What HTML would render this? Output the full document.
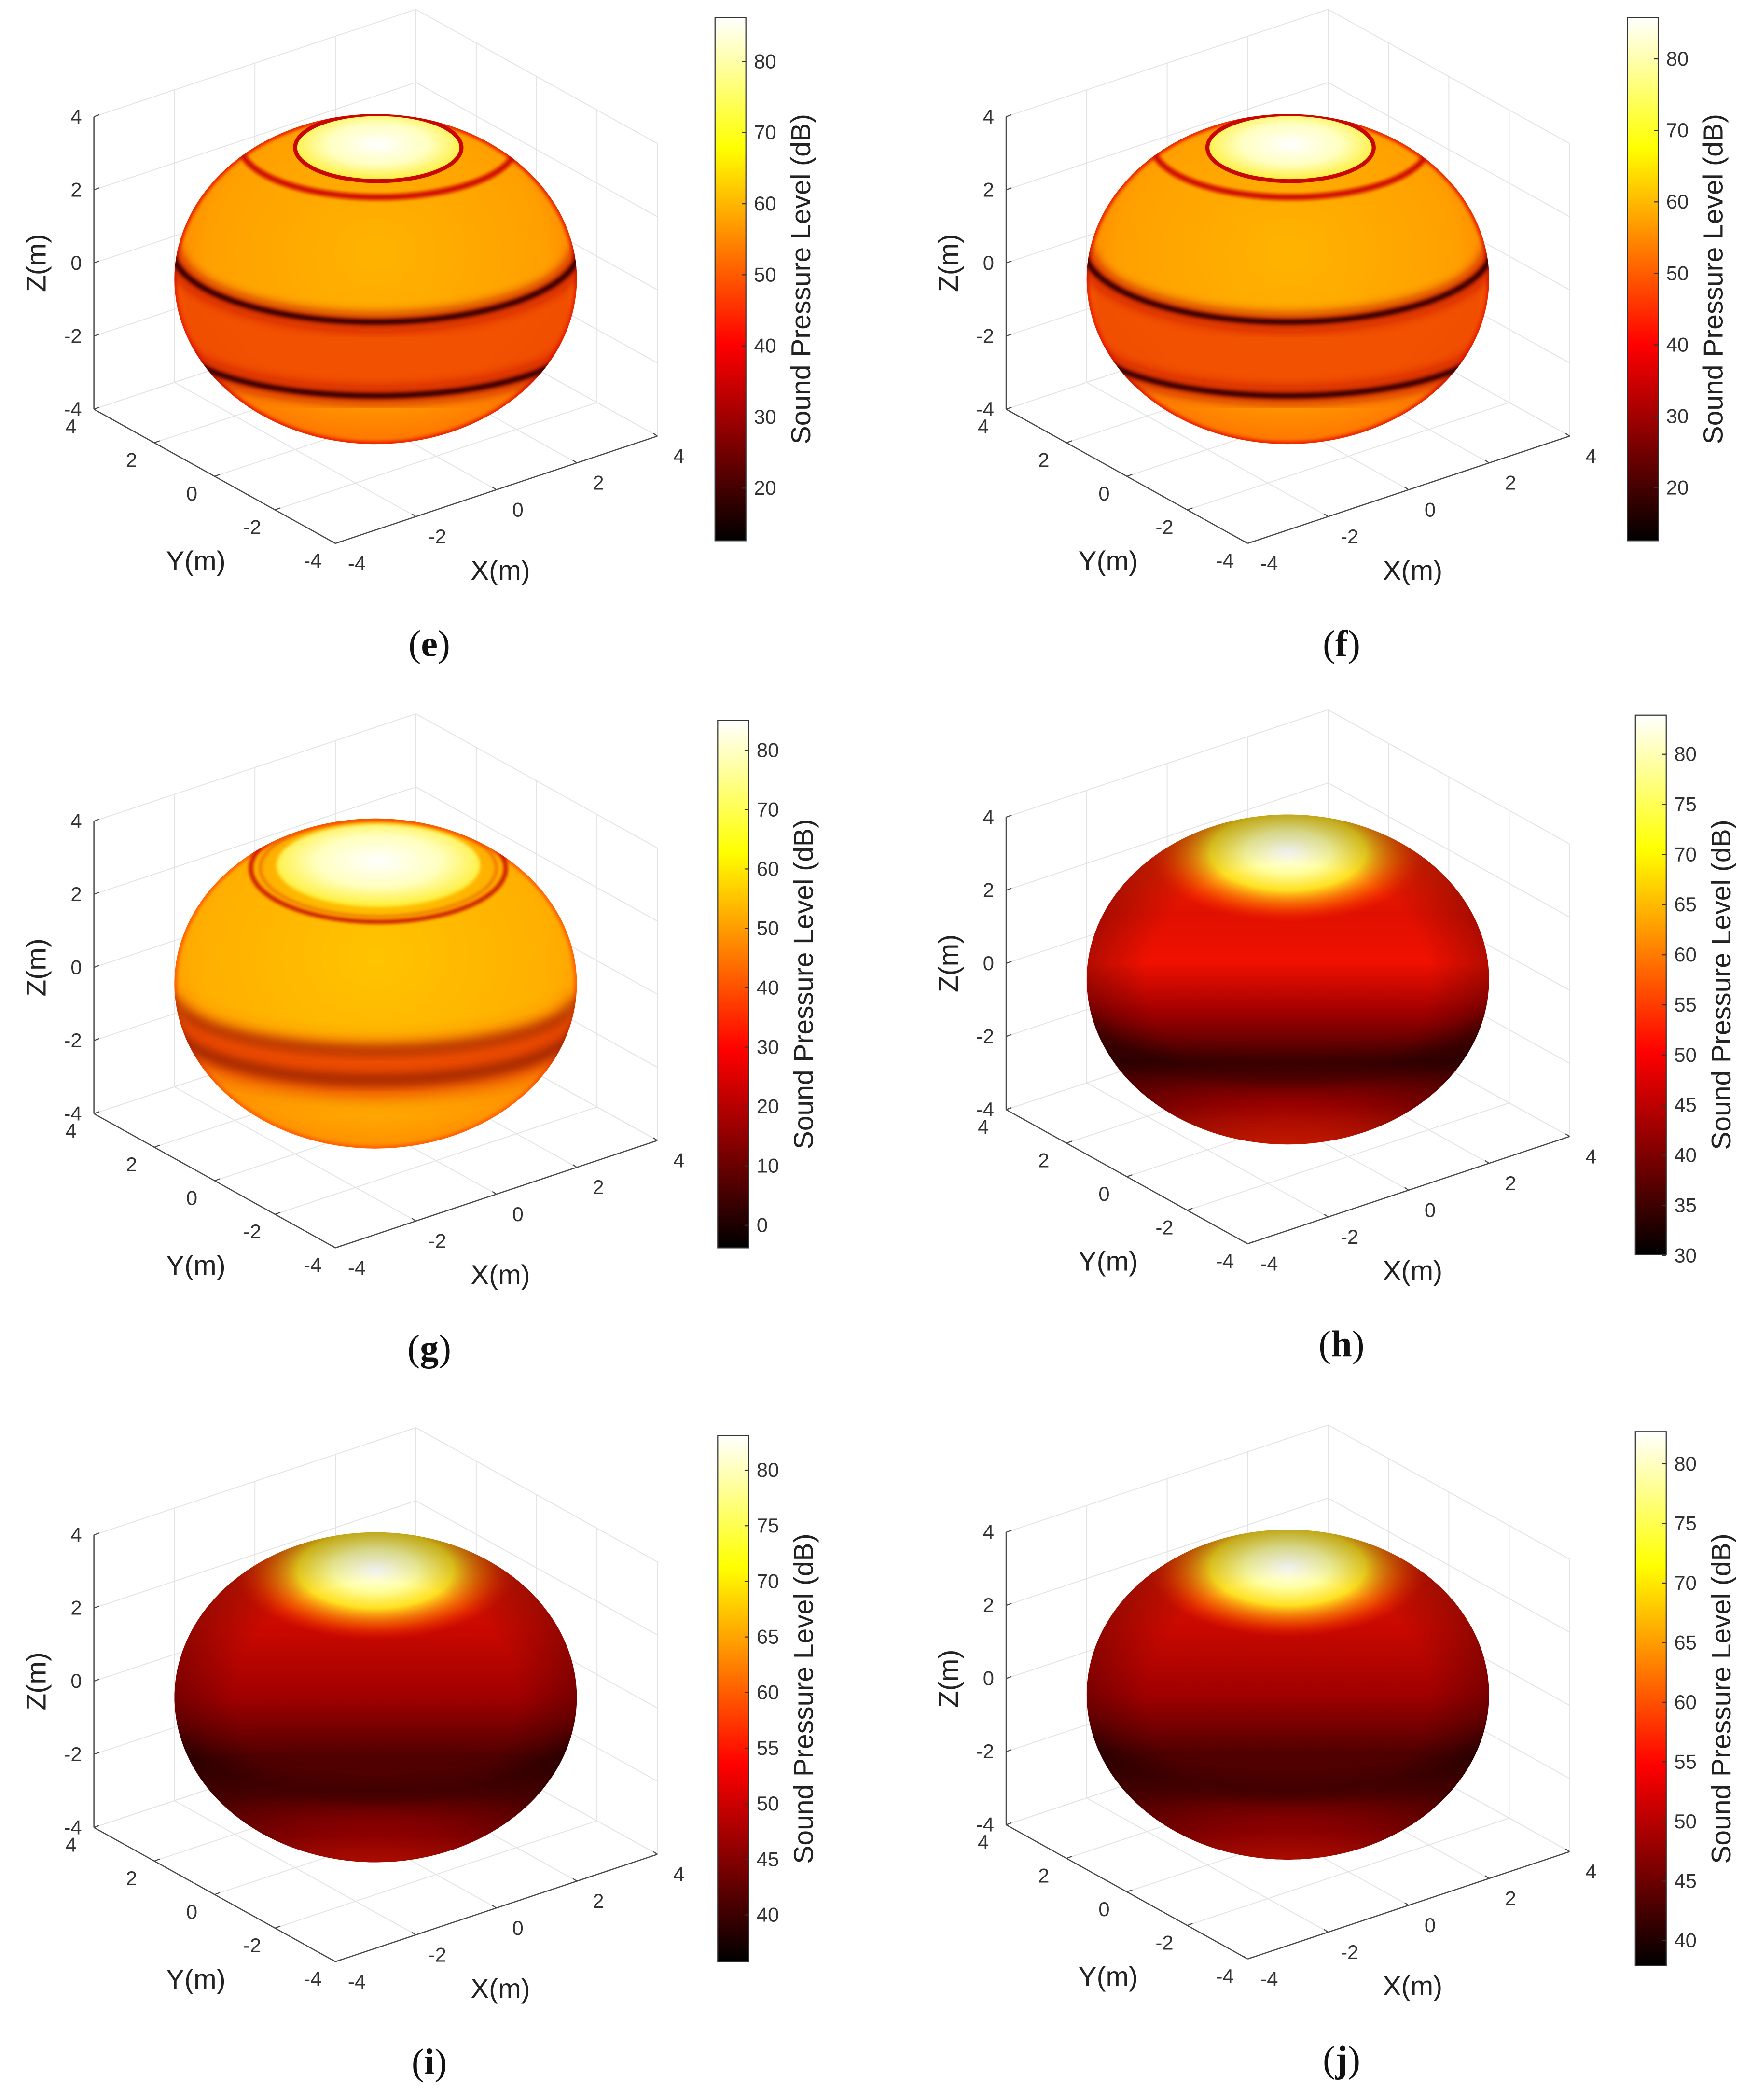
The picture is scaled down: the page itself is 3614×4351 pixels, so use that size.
<!DOCTYPE html>
<html><head><meta charset="utf-8">
<style>html,body{margin:0;padding:0;background:#fff;}svg{display:block;}</style>
</head><body>
<svg id="fig" xmlns="http://www.w3.org/2000/svg" width="3614" height="4351" viewBox="0 0 1300 1565.1" preserveAspectRatio="none">
<defs>
<linearGradient id="hot" x1="0" y1="1" x2="0" y2="0">
<stop offset="0" stop-color="#000"/><stop offset="0.375" stop-color="#f00"/><stop offset="0.75" stop-color="#ff0"/><stop offset="1" stop-color="#fff"/>
</linearGradient>
<radialGradient id="baseBand" cx="50%" cy="42%" r="60%"><stop offset="0" stop-color="#ffb400"/><stop offset="0.7" stop-color="#ffa000"/><stop offset="1" stop-color="#ff7000"/></radialGradient>
<radialGradient id="baseG" cx="50%" cy="42%" r="60%"><stop offset="0" stop-color="#ffc400"/><stop offset="0.75" stop-color="#ffae00"/><stop offset="1" stop-color="#ff8a00"/></radialGradient>
<radialGradient id="cap" cx="50%" cy="45%" r="55%"><stop offset="0" stop-color="#fff"/><stop offset="0.55" stop-color="#ffffc0"/><stop offset="1" stop-color="#ffee30"/></radialGradient>
<linearGradient id="darkBase" x1="0" y1="0" x2="0" y2="1">
<stop offset="0" stop-color="#e82000"/><stop offset="0.3" stop-color="#c80800"/><stop offset="0.5" stop-color="#a00000"/><stop offset="0.68" stop-color="#500000"/><stop offset="0.8" stop-color="#5a0000"/><stop offset="0.92" stop-color="#a00000"/><stop offset="1" stop-color="#e01000"/></linearGradient>
<linearGradient id="darkBaseH" x1="0" y1="0" x2="0" y2="1">
<stop offset="0" stop-color="#ff3000"/><stop offset="0.3" stop-color="#e01000"/><stop offset="0.45" stop-color="#f01000"/><stop offset="0.6" stop-color="#a00000"/><stop offset="0.75" stop-color="#400000"/><stop offset="0.88" stop-color="#a00000"/><stop offset="1" stop-color="#ff2000"/></linearGradient>
<radialGradient id="glow" cx="50%" cy="50%" r="50%"><stop offset="0" stop-color="#fff"/><stop offset="0.3" stop-color="#ffffa0"/><stop offset="0.55" stop-color="#ffe020"/><stop offset="0.8" stop-color="#ff7000" stop-opacity="0.6"/><stop offset="1" stop-color="#ff3000" stop-opacity="0"/></radialGradient>
<radialGradient id="limb" cx="50%" cy="50%" r="50%"><stop offset="0.7" stop-color="#000" stop-opacity="0"/><stop offset="1" stop-color="#000" stop-opacity="0.25"/></radialGradient>
<filter id="b1" x="-20%" y="-20%" width="140%" height="140%"><feGaussianBlur stdDeviation="1.2"/></filter>
<filter id="b3" x="-20%" y="-20%" width="140%" height="140%"><feGaussianBlur stdDeviation="4"/></filter>
<filter id="b6" x="-20%" y="-50%" width="140%" height="200%"><feGaussianBlur stdDeviation="7"/></filter>
</defs>
</svg>
<script>
// ---- data ----
const axisTicks = [-4, -2, 0, 2, 4];
const axisTickLabels = ['-4', '-2', '0', '2', '4'];
const cbTicksE = [20, 30, 40, 50, 60, 70, 80];
const cbRangeE = [12.6, 86.2];
const cbTicksF = [20, 30, 40, 50, 60, 70, 80];
const cbRangeF = [12.6, 85.8];
const cbTicksG = [0, 10, 20, 30, 40, 50, 60, 70, 80];
const cbRangeG = [-3.8, 85];
const cbTicksH = [30, 35, 40, 45, 50, 55, 60, 65, 70, 75, 80];
const cbRangeH = [30.1, 83.9];
const cbTicksI = [40, 45, 50, 55, 60, 65, 70, 75, 80];
const cbRangeI = [35.8, 83.1];
const cbTicksJ = [40, 45, 50, 55, 60, 65, 70, 75, 80];
const cbRangeJ = [37.9, 82.7];

const NS = 'http://www.w3.org/2000/svg';
const svg = document.getElementById('fig');
function mk(tag, attrs, parent) {
  const e = document.createElementNS(NS, tag);
  for (const k in attrs) e.setAttribute(k, attrs[k]);
  (parent || svg).appendChild(e);
  return e;
}

const panels = [
  {id:'e', dx:0, dy:0, type:'bands', cb:{x:533,y:13,w:23,h:390}, ticks:cbTicksE, range:cbRangeE},
  {id:'f', dx:680, dy:0, type:'bands', cb:{x:1213,y:13,w:23,h:390}, ticks:cbTicksF, range:cbRangeF},
  {id:'g', dx:0, dy:525, type:'g', cb:{x:535,y:537,w:23,h:393}, ticks:cbTicksG, range:cbRangeG},
  {id:'h', dx:680, dy:522, type:'h', cb:{x:1219,y:533,w:23,h:402}, ticks:cbTicksH, range:cbRangeH},
  {id:'i', dx:0, dy:1057, type:'dark', cb:{x:535,y:1070,w:23,h:392}, ticks:cbTicksI, range:cbRangeI},
  {id:'j', dx:680, dy:1055, type:'dark', cb:{x:1219,y:1067,w:23,h:398}, ticks:cbTicksJ, range:cbRangeJ}
];

function proj(p, x, y, z) {
  return [p.dx + 250 + (x + 4) * 30 - (y + 4) * 22.5,
          p.dy + 405 - (x + 4) * 10 - (y + 4) * 12.5 - (z + 4) * 27.25];
}
function line(g, a, b, stroke, w) {
  return mk('line', {x1:a[0], y1:a[1], x2:b[0], y2:b[1], stroke:stroke, 'stroke-width':w}, g);
}
function txt(g, x, y, s, attrs) {
  const t = mk('text', Object.assign({x:x, y:y}, attrs), g);
  t.textContent = s;
  return t;
}
function lowerArc(cx, cy, rx, ry) {
  return 'M' + (cx - rx) + ',' + cy + ' A' + rx + ',' + ry + ' 0 0 0 ' + (cx + rx) + ',' + cy;
}

panels.forEach(p => {
  const g = mk('g', {});
  
  

  const grid = mk('g', {}, g);
  
  
  const gc = '#e3e3e3', gw = 0.7;
  axisTicks.forEach(v => {
    line(grid, proj(p, v, 4, -4), proj(p, v, 4, 4), gc, gw);
    line(grid, proj(p, -4, 4, v), proj(p, 4, 4, v), gc, gw);
    line(grid, proj(p, 4, v, -4), proj(p, 4, v, 4), gc, gw);
    line(grid, proj(p, 4, -4, v), proj(p, 4, 4, v), gc, gw);
    line(grid, proj(p, v, -4, -4), proj(p, v, 4, -4), gc, gw);
    line(grid, proj(p, -4, v, -4), proj(p, 4, v, -4), gc, gw);
  });

  const ax = mk('g', {}, g);
  
  
  const ac = '#4a4a4a';
  line(ax, proj(p, -4, 4, -4), proj(p, -4, 4, 4), ac, 0.9);
  line(ax, proj(p, -4, 4, -4), proj(p, -4, -4, -4), ac, 0.9);
  line(ax, proj(p, -4, -4, -4), proj(p, 4, -4, -4), ac, 0.9);
  const tf = {'font-family':'Liberation Sans, sans-serif', 'font-size':15, fill:'#333'};
  axisTicks.forEach((v, i) => {
    const pz = proj(p, -4, 4, v);
    line(ax, pz, [pz[0] + 4, pz[1] - 1.5], ac, 0.8);
    const tz = txt(ax, pz[0] - 9, pz[1] + 5, axisTickLabels[i], Object.assign({'text-anchor':'end'}, tf));
    
    
    const py = proj(p, -4, v, -4);
    line(ax, py, [py[0] + 4, py[1] - 1.5], ac, 0.8);
    const ty = txt(ax, py[0] - 17, py[1] + 18, axisTickLabels[i], Object.assign({'text-anchor':'middle'}, tf));
    
    
    const px = proj(p, v, -4, -4);
    line(ax, px, [px[0] - 3, px[1] - 2], ac, 0.8);
    const tx = txt(ax, px[0] + 16, px[1] + 20, axisTickLabels[i], Object.assign({'text-anchor':'middle'}, tf));
    
    
  });
  const lf = {'font-family':'Liberation Sans, sans-serif', 'font-size':20.5, fill:'#222', 'text-anchor':'middle'};
  const zt = txt(ax, 0, 0, 'Z(m)', Object.assign({transform:'translate(' + (p.dx + 34) + ',' + (p.dy + 196) + ') rotate(-90)'}, lf));
  
  
  const yt = txt(ax, p.dx + 146, p.dy + 425, 'Y(m)', lf);
  
  
  const xt = txt(ax, p.dx + 373, p.dy + 432, 'X(m)', lf);
  
  

  const cx = p.dx + 280, cy = p.dy + 208, rx = 150, ry = 123;
  const cid = 'clip' + p.id;
  const cp = mk('clipPath', {id:cid}, g);
  mk('ellipse', {cx:cx, cy:cy, rx:rx, ry:ry}, cp);
  const sp = mk('g', {'clip-path':'url(#' + cid + ')'}, g);
  
  

  if (p.type === 'bands') {
    mk('ellipse', {cx:cx, cy:cy, rx:rx, ry:ry, fill:'url(#baseBand)'}, sp);
    mk('path', {d:lowerArc(cx, cy - 23, rx, 55) + ' L' + (cx + rx) + ',' + (cy + 42) + ' A' + rx + ',45 0 0 1 ' + (cx - rx) + ',' + (cy + 42) + ' Z', fill:'#f04800', opacity:0.9, filter:'url(#b3)'}, sp);
    mk('ellipse', {cx:cx, cy:cy, rx:rx, ry:ry, fill:'none', stroke:'#e82000', 'stroke-width':4, filter:'url(#b1)'}, sp);
    mk('ellipse', {cx:cx + 2, cy:cy - 100, rx:103, ry:39, fill:'none', stroke:'#d01000', 'stroke-width':4.5, filter:'url(#b1)'}, sp);
    mk('ellipse', {cx:cx + 2, cy:cy - 98, rx:62, ry:25, fill:'url(#cap)', stroke:'#c80800', 'stroke-width':3}, sp);
    [[cy - 23, 55], [cy + 42, 45]].forEach(r => {
      mk('path', {d:lowerArc(cx, r[0], rx + 2, r[1]), fill:'none', stroke:'#c01000', 'stroke-width':13, opacity:0.75, filter:'url(#b3)'}, sp);
      mk('path', {d:lowerArc(cx, r[0], rx + 2, r[1]), fill:'none', stroke:'#3a0000', 'stroke-width':4, filter:'url(#b1)'}, sp);
    });
  } else if (p.type === 'g') {
    mk('ellipse', {cx:cx, cy:cy, rx:rx, ry:ry, fill:'url(#baseG)'}, sp);
    mk('ellipse', {cx:cx, cy:cy, rx:rx, ry:ry, fill:'none', stroke:'#ff6000', 'stroke-width':4, filter:'url(#b1)'}, sp);
    mk('path', {d:lowerArc(cx, cy + 5, rx, 40) + ' L' + (cx + rx) + ',' + (cy + 40) + ' A' + rx + ',45 0 0 1 ' + (cx - rx) + ',' + (cy + 40) + ' Z', fill:'#e83000', opacity:0.8, filter:'url(#b6)'}, sp);
    mk('path', {d:lowerArc(cx, cy + 10, rx, 40), fill:'none', stroke:'#6a0000', 'stroke-width':6, opacity:0.6, filter:'url(#b3)'}, sp);
    mk('path', {d:lowerArc(cx, cy + 30, rx, 42), fill:'none', stroke:'#500000', 'stroke-width':7, opacity:0.6, filter:'url(#b3)'}, sp);
    mk('ellipse', {cx:cx + 2, cy:cy - 86, rx:95, ry:40, fill:'none', stroke:'#c81000', 'stroke-width':3, filter:'url(#b1)'}, sp);
    mk('ellipse', {cx:cx + 2, cy:cy - 86, rx:88, ry:36, fill:'none', stroke:'#e04000', 'stroke-width':2, opacity:0.6, filter:'url(#b1)'}, sp);
    mk('ellipse', {cx:cx + 2, cy:cy - 88, rx:76, ry:31, fill:'url(#cap)', filter:'url(#b1)'}, sp);
  } else {
    mk('ellipse', {cx:cx, cy:cy, rx:rx, ry:ry, fill:p.type === 'h' ? 'url(#darkBaseH)' : 'url(#darkBase)'}, sp);
    mk('path', {d:lowerArc(cx, cy + 30, rx, 40), fill:'none', stroke:'#200000', 'stroke-width':16, opacity:0.5, filter:'url(#b6)'}, sp);
    mk('ellipse', {cx:cx, cy:cy - 95, rx:105, ry:52, fill:'url(#glow)'}, sp);
    mk('ellipse', {cx:cx, cy:cy, rx:rx, ry:ry, fill:'url(#limb)'}, sp);
  }

  const cbg = mk('g', {}, g);
  
  
  const c = p.cb;
  mk('rect', {x:c.x, y:c.y, width:c.w, height:c.h, fill:'url(#hot)', stroke:'#333', 'stroke-width':0.8}, cbg);
  const vy = v => c.y + (p.range[1] - v) / (p.range[1] - p.range[0]) * c.h;
  p.ticks.forEach(v => {
    const y = vy(v);
    line(cbg, [c.x + c.w - 3, y], [c.x + c.w, y], '#333', 0.8);
    const t = txt(cbg, c.x + c.w + 6, y + 5, String(v), tf);
    
    
  });
  const ct = txt(cbg, 0, 0, 'Sound Pressure Level (dB)', Object.assign({transform:'translate(' + (c.x + c.w + 48) + ',' + (c.y + c.h / 2) + ') rotate(-90)'}, lf));
  
  

  const cap = mk('text', {x:p.dx + 320, y:p.dy + 489, 'text-anchor':'middle', 'font-family':'Liberation Serif, serif', 'font-size':28, fill:'#111'}, g);
  
  
  const s1 = mk('tspan', {}, cap); s1.textContent = '(';
  const s2 = mk('tspan', {'font-weight':'bold'}, cap); s2.textContent = p.id;
  const s3 = mk('tspan', {}, cap); s3.textContent = ')';
});
</script>
</body></html>
